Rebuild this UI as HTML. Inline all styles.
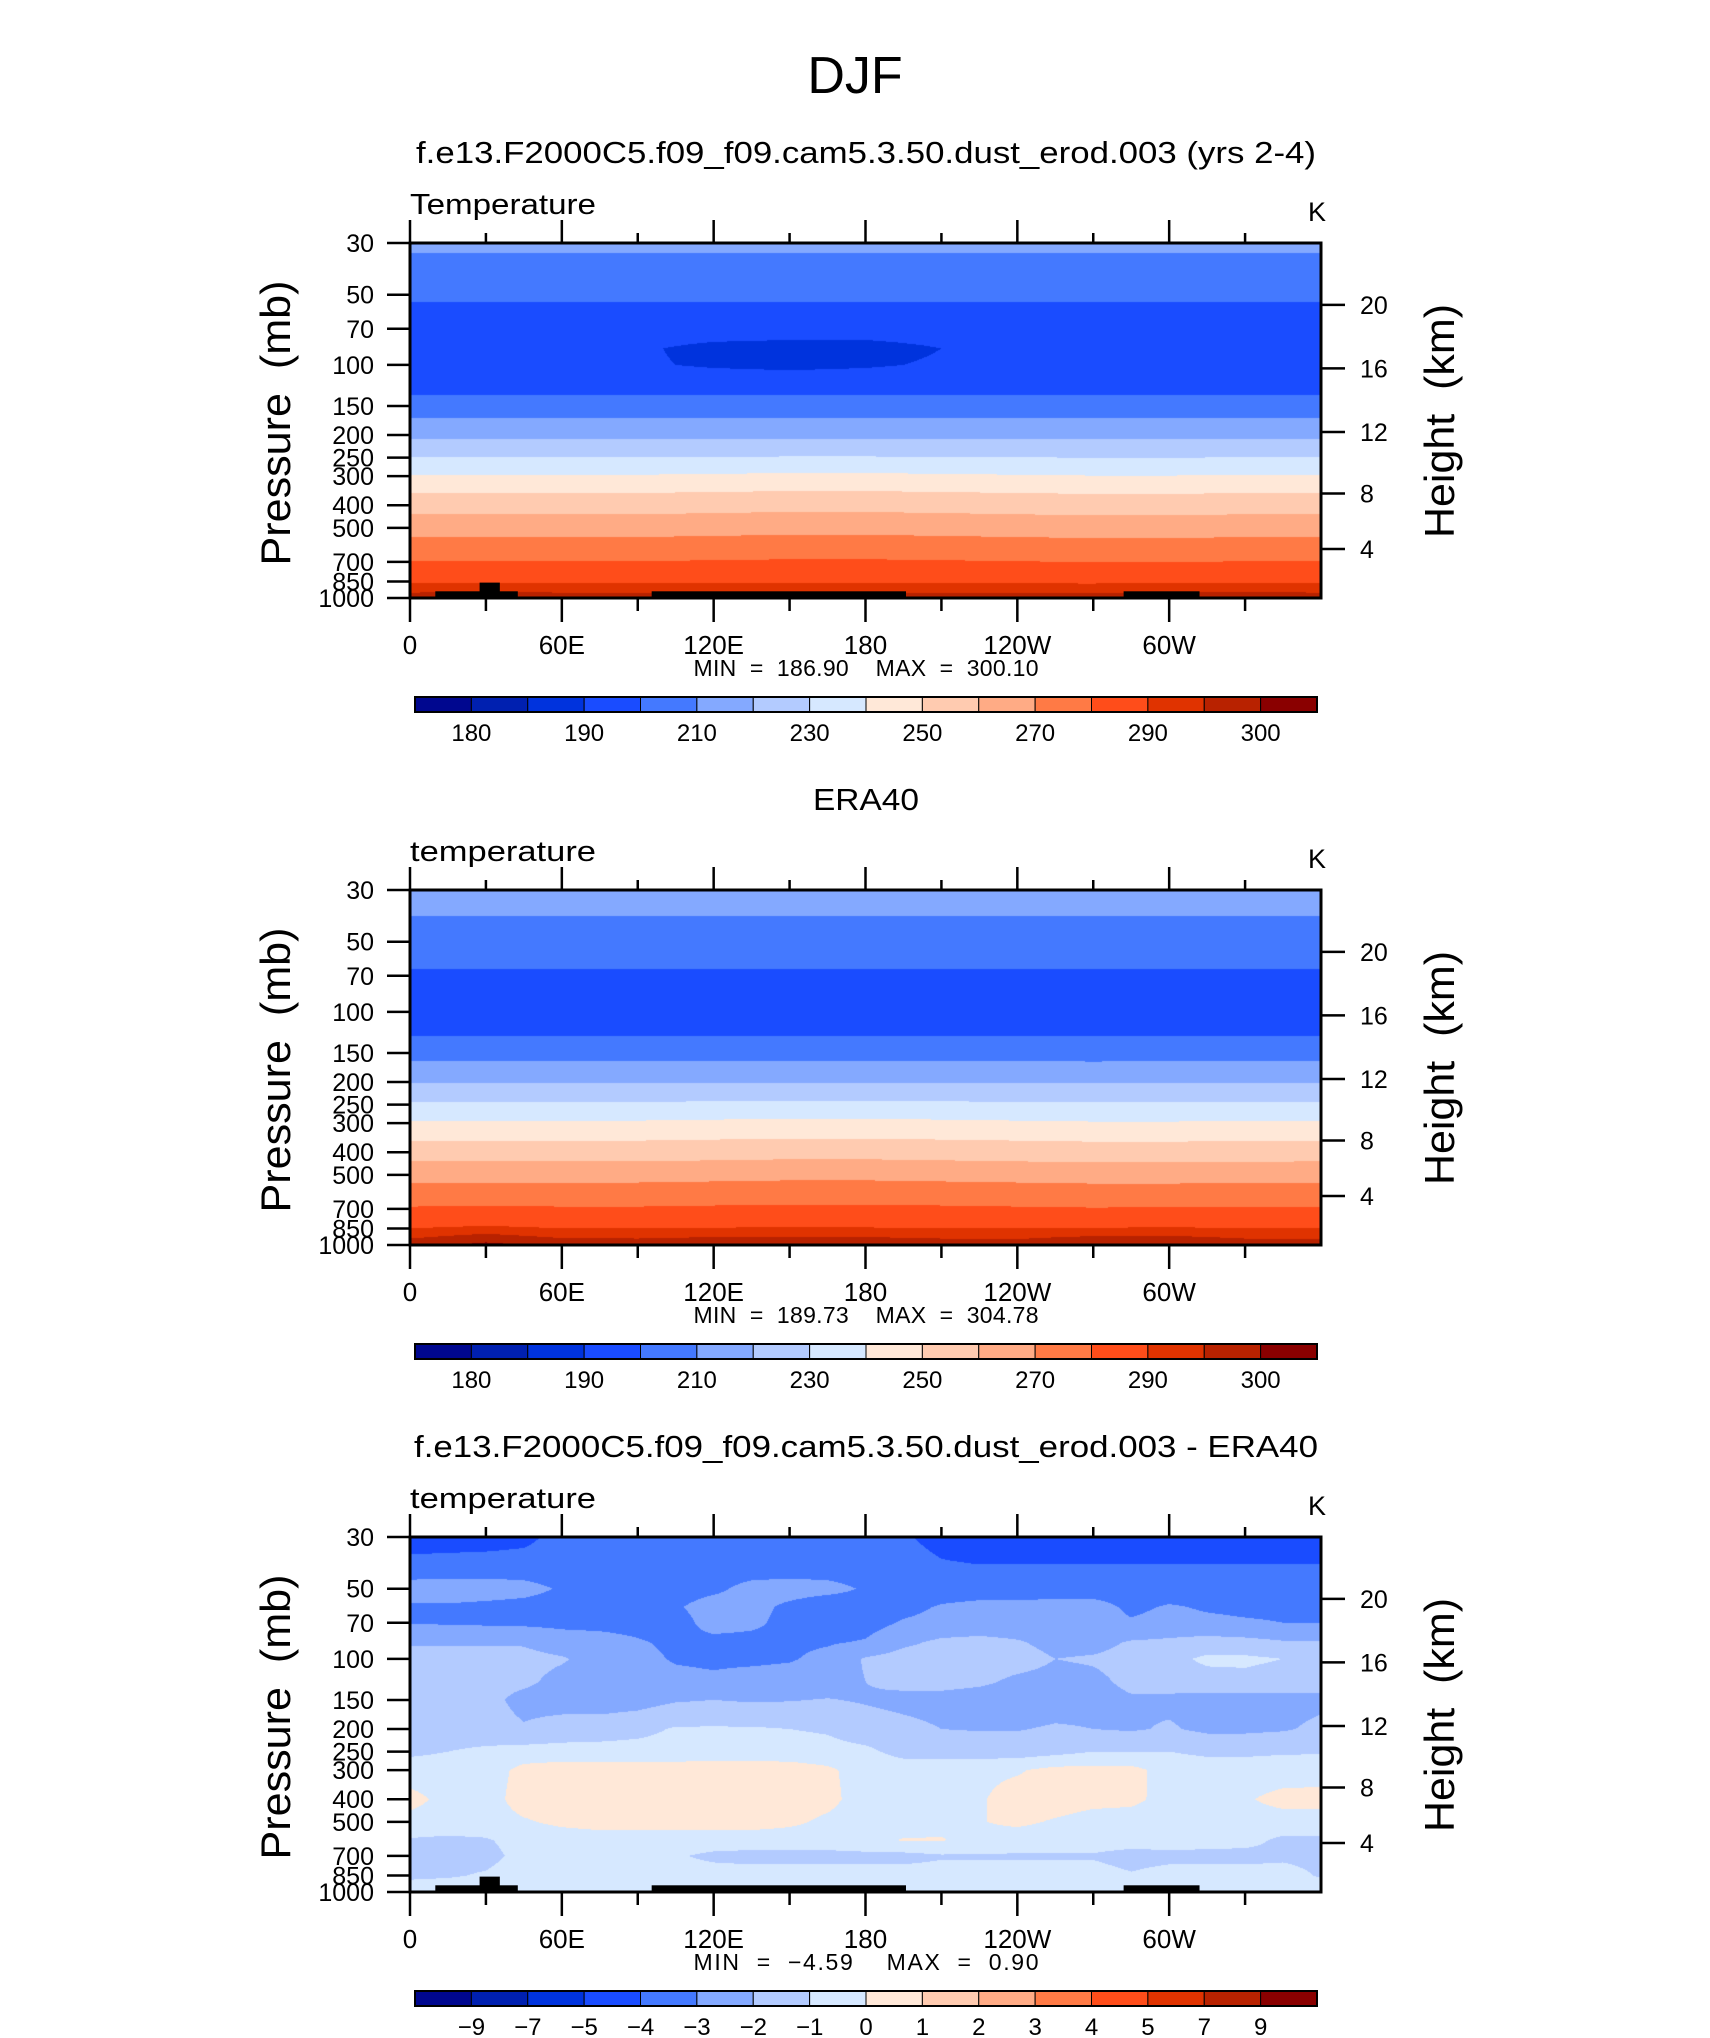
<!DOCTYPE html>
<html><head><meta charset="utf-8"><style>
html,body{margin:0;padding:0;background:#fff;}
#root{position:relative;width:1710px;height:2038px;overflow:hidden;background:#fff;}
canvas{position:absolute;}
svg{position:absolute;left:0;top:0;}
text{font-family:"Liberation Sans",sans-serif;fill:#000;white-space:pre;}
</style></head><body>
<div id="root">
<canvas id="c1" width="911" height="355" style="left:410px;top:243px"></canvas>
<canvas id="c2" width="911" height="355" style="left:410px;top:890px"></canvas>
<canvas id="c3" width="911" height="355" style="left:410px;top:1537px"></canvas>
<svg id="ov" width="1710" height="2038"></svg>
</div>
<script>
// ---------- data ----------
const levelsT=[180,185,190,200,210,220,230,240,250,260,270,280,290,295,300];
const levelsD=[-9,-7,-5,-4,-3,-2,-1,0,1,2,3,4,5,7,9];
const levelLabelsT=["180","","190","","210","","230","","250","","270","","290","","300"];
const levelLabelsD=["\u22129","\u22127","\u22125","\u22124","\u22123","\u22122","\u22121","0","1","2","3","4","5","7","9"];
const palette=["#00078f","#0020b0","#0033dd","#1a4cff","#4479ff","#84a9ff","#b3cbff","#d6e8ff","#ffe8d8","#ffcbb0","#ffab85","#ff7a45","#ff4d1a","#e03300","#b82200","#8a0000"];
const pressTicks=[30,50,70,100,150,200,250,300,400,500,700,850,1000];
const heightKm=[4,8,12,16,20];
const heightP=[616,356,194,103.5,55.3];
const lonTicks=[0,60,120,180,240,300];
const lonTickLabels=["0","60E","120E","180","120W","60W"];
const oroStart=[10,27.5,95.5,282];
const oroEnd=[42.6,35.5,196,312];
const oroTop=[936,859,936,936];

const lons13=[0,30,60,90,120,150,180,210,240,270,300,330,360];
const p1=[30,43,70,85,100,120,150,190,228,272,322,390,490,612,770,900,1000];
const g1=[
[212,212,212,212,212,212,212,212,212,212,212,212,212],
[205,205,205,205,205,205,205,205,205,205,205,205,205],
[194,194,194,194,194,194,194,194,194,194,194,194,194],
[194,194,194,191,188,187,187,190,194,194,194,194,194],
[193,193,193,191,189,188,189,191,193,193,193,193,193],
[195,195,195,195,195,195,195,195,195,195,195,195,195],
[205,205,205,205,205,205,205,205,205,205,205,205,205],
[215,215,215,215,215,215,215,215,215,215,215,215,215],
[225,225,225,225,225,225,225,225,225,225,225,225,225],
[235,235,235,235,235.5,236,236,235.5,235,234.5,234.5,235,235],
[245,245,245,245,245.5,246,246,245.5,245,244.5,244.5,245,245],
[255,255,255,255,255.5,256,256,255.5,255,254.5,254.5,255,255],
[265,265,265,265,265.5,266,266,265.5,265,264.5,264.5,265,265],
[275,275,275,275,275.5,276,276,275.5,275,274.5,274.5,275,275],
[284,284,284,284,284.3,284.5,284.5,284.3,284,283.7,283.7,284,284],
[292,292.5,292,292,292,292,292,292,292,292,292.5,292,292],
[298,299,298,298,298,298,298,298,298,297.5,297.5,299,298]];

const p2=[30,50,90,110,145,182,222,266,322,395,485,600,760,880,1000];
const g2=[
[215,215,215,215,215,215,215,215,215,215,215,215,215],
[205,205,205,205,205,205,205,205,205,205,205,205,205],
[194,194,194,194,194,194,194,194,194,194,194,194,194],
[195,195,195,195,195,195,195,195,195,195,195,195,195],
[205,205,205,205,205,205,205,205,205,204.5,205,205,205],
[215,215,215,215,215,215,215,215,215,215,215,215,215],
[225,225,225,225,225,225,225,225,225,225,225,225,225],
[235,235,235,235,235.5,236,236,235.5,235,234.5,234.5,234.8,235],
[245,245,245,245,245.5,246,246,245.5,245,244.5,244.5,244.8,245],
[255,255,255,255,255.5,256,256,255.5,255,254.5,254.5,254.8,255],
[265,265,265,265,265.5,266,266,265.5,265,264.5,264.5,264.8,265],
[275,275,275,275,275.5,276,276,275.5,275,274.5,274.5,274.8,275],
[284,284.5,284,284,284.3,284.5,284.5,284.3,284,283.7,284,284,284],
[292,294,292,292,292.5,292.5,292.5,292,292,292.5,293,292,292],
[298,301.5,298.5,298,299,299,299,298,297.5,300.5,300,298,298]];

const lons25=[0,15,30,45,60,75,90,105,120,135,150,165,180,195,210,225,240,255,270,285,300,315,330,345,360];
const p3=[30,40,50,60,70,85,100,125,150,200,250,300,400,500,600,700,850,1000];
const g3=[
[-4.6,-4.6,-4.5,-4.3,-3.6,-3.5,-3.5,-3.5,-3.5,-3.5,-3.5,-3.6,-3.7,-3.9,-4.3,-4.5,-4.5,-4.5,-4.5,-4.5,-4.5,-4.5,-4.5,-4.5,-4.5],
[-3.6,-3.5,-3.5,-3.5,-3.5,-3.5,-3.5,-3.5,-3.5,-3.5,-3.5,-3.5,-3.5,-3.6,-3.9,-3.97,-3.97,-3.97,-3.97,-3.97,-3.97,-3.97,-3.97,-3.97,-3.97],
[-2.6,-2.6,-2.6,-2.7,-3.1,-3.5,-3.5,-3.4,-3.2,-2.7,-2.6,-2.7,-3.1,-3.5,-3.5,-3.5,-3.5,-3.5,-3.5,-3.5,-3.5,-3.5,-3.5,-3.5,-3.0],
[-3.1,-3.1,-3.2,-3.3,-3.4,-3.5,-3.4,-3.1,-2.6,-2.7,-3.2,-3.6,-3.4,-3.3,-2.9,-2.7,-2.7,-2.6,-2.6,-3.2,-2.9,-3.1,-3.2,-3.2,-3.3],
[-3.05,-3.1,-3.15,-3.2,-3.25,-3.3,-3.35,-3.4,-2.6,-2.8,-3.3,-3.9,-3.4,-2.9,-2.7,-2.6,-2.6,-2.6,-2.6,-2.9,-2.7,-2.8,-2.9,-3.0,-3.0],
[-2.1,-2.1,-2.1,-2.1,-2.5,-2.6,-2.9,-3.2,-3.3,-3.3,-3.2,-3.1,-2.9,-2.2,-1.8,-1.7,-1.9,-2.3,-2.3,-1.9,-1.8,-1.6,-1.7,-1.9,-1.9],
[-1.6,-1.6,-1.6,-1.7,-1.9,-2.4,-2.7,-3.1,-3.2,-3.2,-3.1,-2.7,-1.9,-1.6,-1.5,-1.5,-1.6,-2.0,-1.9,-1.7,-1.3,-0.8,-0.8,-1.0,-1.6],
[-1.6,-1.6,-1.7,-1.8,-2.3,-2.5,-2.6,-2.7,-2.8,-2.6,-2.5,-2.5,-2.0,-1.7,-1.6,-1.8,-2.2,-2.3,-2.2,-1.8,-1.6,-1.4,-1.3,-1.5,-1.7],
[-1.6,-1.6,-1.7,-2.3,-2.4,-2.5,-2.4,-2.1,-2.0,-2.1,-2.05,-1.95,-2.1,-2.3,-2.4,-2.5,-2.5,-2.4,-2.3,-2.1,-2.2,-2.4,-2.4,-2.3,-2.2],
[-1.5,-1.5,-1.6,-1.9,-1.6,-1.5,-1.3,-0.9,-0.9,-0.9,-1.0,-1.1,-1.5,-1.7,-2.0,-2.05,-2.05,-1.9,-2.0,-2.1,-1.9,-2.2,-2.2,-2.1,-1.8],
[-1.2,-1.0,-0.8,-0.6,-0.6,-0.6,-0.6,-0.6,-0.5,-0.5,-0.6,-0.7,-0.8,-1.3,-1.5,-1.5,-1.5,-1.3,-1.0,-1.0,-1.0,-1.2,-1.2,-1.1,-1.1],
[-0.5,-0.5,-0.5,0.3,0.5,0.5,0.5,0.5,0.5,0.5,0.5,0.2,-0.5,-0.5,-0.3,-0.2,-0.1,0.3,0.3,0.3,-0.4,-0.5,-0.5,-0.5,-0.4],
[0.3,-0.3,-0.4,0.4,0.5,0.5,0.5,0.5,0.5,0.5,0.5,0.3,-0.5,-0.5,-0.3,-0.1,0.4,0.5,0.3,0.2,-0.3,-0.3,-0.1,0.3,0.3],
[-0.3,-0.4,-0.4,-0.1,0.2,0.4,0.4,0.4,0.4,0.4,0.2,-0.2,-0.5,-0.4,-0.2,-0.05,0.2,-0.1,-0.4,-0.4,-0.4,-0.4,-0.4,-0.4,-0.4],
[-1.1,-1.2,-1.1,-0.6,-0.5,-0.5,-0.5,-0.5,-0.5,-0.5,-0.5,-0.5,-0.2,0.05,0.05,-0.3,-0.5,-0.5,-0.5,-0.5,-0.5,-0.6,-0.7,-1.2,-1.2],
[-1.3,-1.3,-1.3,-0.7,-0.9,-0.8,-0.8,-0.9,-1.2,-1.3,-1.3,-1.3,-1.3,-1.3,-1.1,-1.1,-1.1,-1.1,-1.1,-1.4,-1.3,-1.3,-1.3,-1.2,-1.3],
[-1.2,-1.1,-0.9,-0.5,-0.6,-0.6,-0.6,-0.6,-0.6,-0.6,-0.6,-0.6,-0.6,-0.6,-0.6,-0.6,-0.6,-0.6,-0.6,-0.9,-0.6,-0.6,-0.6,-0.6,-1.1],
[-0.4,-0.4,-0.4,-0.4,-0.4,-0.4,-0.2,0.1,-0.4,-0.4,-0.4,-0.4,-0.4,-0.4,-0.4,-0.4,-0.4,-0.4,-0.4,-0.4,-0.4,-0.4,-0.4,-0.4,-0.4]];

// ---------- geometry ----------
const PL=410, PW=911, PH=355, TOPS=[243,890,1537];
const LNP0=Math.log(30), LNR=Math.log(1000/30);
function yOfP(p,top){return top+(Math.log(p)-LNP0)/LNR*PH;}
function xOfLon(l){return PL+l/360*PW;}
function hex(c){return [parseInt(c.substr(1,2),16),parseInt(c.substr(3,2),16),parseInt(c.substr(5,2),16)];}
const rgb=palette.map(hex);
function band(v,lv){let i=0;while(i<lv.length&&v>=lv[i])i++;return i;}

function render(id,lons,pres,grid,lv){
  const cv=document.getElementById(id),ctx=cv.getContext('2d');
  const im=ctx.createImageData(PW,PH),d=im.data;
  const lp=pres.map(Math.log);
  const dl=lons[1]-lons[0], nc=lons.length;
  for(let py=0;py<PH;py++){
    const L=LNP0+(py+0.5)/PH*LNR;
    let j=0;while(j<lp.length-2&&L>lp[j+1])j++;
    let t=(L-lp[j])/(lp[j+1]-lp[j]);t=Math.max(0,Math.min(1,t));
    const r0=grid[j],r1=grid[j+1];
    for(let px=0;px<PW;px++){
      const lon=(px+0.5)/PW*360;
      let i=Math.min(nc-2,Math.floor(lon/dl));const s=(lon-lons[i])/dl;
      const v=(r0[i]*(1-s)+r0[i+1]*s)*(1-t)+(r1[i]*(1-s)+r1[i+1]*s)*t;
      const c=rgb[band(v,lv)],k=(py*PW+px)*4;
      d[k]=c[0];d[k+1]=c[1];d[k+2]=c[2];d[k+3]=255;
    }
  }
  ctx.putImageData(im,0,0);
}
render('c1',lons13,p1,g1,levelsT);
render('c2',lons13,p2,g2,levelsT);
render('c3',lons25,p3,g3,levelsD);

// ---------- svg ----------
const NS='http://www.w3.org/2000/svg',svg=document.getElementById('ov');
function el(tag,attrs,txt){const e=document.createElementNS(NS,tag);for(const k in attrs)e.setAttribute(k,attrs[k]);if(txt!==undefined)e.textContent=txt;svg.appendChild(e);return e;}
function line(x1,y1,x2,y2,w){return el('line',{x1:x1,y1:y1,x2:x2,y2:y2,stroke:'#000','stroke-width':w});}

let t=el('text',{x:855,y:93,'font-size':52,'text-anchor':'middle',fill:'#222'},'DJF');



const titles=["f.e13.F2000C5.f09_f09.cam5.3.50.dust_erod.003 (yrs 2-4)","ERA40","f.e13.F2000C5.f09_f09.cam5.3.50.dust_erod.003 - ERA40"];
const titleLen=[900,106,904];
const leftLab=["Temperature","temperature","temperature"];
const minmax=[["186.90","300.10"],["189.73","304.78"],["\u22124.59","0.90"]];
const cbLabels=[levelLabelsT,levelLabelsT,levelLabelsD];
const panelNames=['model','era40','difference'];

for(let k=0;k<3;k++){
  const top=TOPS[k],off=top-243,bot=top+PH,nm=panelNames[k];
  t=el('text',{x:866,y:163+off,'font-size':31,'text-anchor':'middle',textLength:titleLen[k],lengthAdjust:'spacingAndGlyphs'},titles[k]);
  
  
  t=el('text',{x:410,y:214+off,'font-size':29,textLength:186,lengthAdjust:'spacingAndGlyphs'},leftLab[k]);
  
  
  t=el('text',{x:1308,y:221+off,'font-size':27},'K');
  
  
  if(k!==1){
    for(let i=0;i<oroStart.length;i++){
      const x1=xOfLon(oroStart[i]),x2=xOfLon(oroEnd[i]),y1=yOfP(oroTop[i],top);
      const r=el('rect',{x:x1,y:y1,width:x2-x1,height:bot-y1,fill:'#000'});
      
      
    }
  }
  const fr=el('rect',{x:PL,y:top,width:PW,height:PH,fill:'none',stroke:'#000','stroke-width':3});
  
  
  pressTicks.forEach(p=>{
    const y=yOfP(p,top);
    line(387,y,PL,y,2.5);
    const tx=el('text',{x:374,y:y+9,'font-size':25,'text-anchor':'end'},String(p));
    
    
  });
  heightKm.forEach((h,i)=>{
    const y=yOfP(heightP[i],top);
    line(PL+PW,y,PL+PW+24,y,2.5);
    const tx=el('text',{x:1360,y:y+9,'font-size':25},String(h));
    
    
  });
  for(let l=0;l<=330;l+=30){
    const x=xOfLon(l),maj=(l%60===0);
    line(x,top,x,top-(maj?23:10),2.5);
    line(x,bot,x,bot+(maj?24:13),2.5);
  }
  lonTicks.forEach((l,i)=>{
    const tx=el('text',{x:xOfLon(l),y:654+off,'font-size':26,'text-anchor':'middle'},lonTickLabels[i]);
    
    
  });
  t=el('text',{x:866,y:676+off,'font-size':23,'text-anchor':'middle',textLength:345,lengthAdjust:'spacing'},'MIN  =  '+minmax[k][0]+'    MAX  =  '+minmax[k][1]);
  
  
  t=el('text',{x:0,y:0,'font-size':42,'text-anchor':'middle',fill:'#222',textLength:285,lengthAdjust:'spacingAndGlyphs',transform:'translate(290,'+(423+off)+') rotate(-90)'},'Pressure  (mb)');
  
  
  t=el('text',{x:0,y:0,'font-size':42,'text-anchor':'middle',fill:'#222',textLength:234,lengthAdjust:'spacingAndGlyphs',transform:'translate(1454,'+(421+off)+') rotate(-90)'},'Height  (km)');
  
  
  const cx0=415,cw=(1317-415)/palette.length,cy=697+off,ch=15;
  palette.forEach((c,i)=>{
    const r=el('rect',{x:cx0+i*cw,y:cy,width:cw,height:ch,fill:c,stroke:'#000','stroke-width':1});
    
    
  });
  el('rect',{x:cx0,y:cy,width:cw*palette.length,height:ch,fill:'none',stroke:'#000','stroke-width':2});
  cbLabels[k].forEach((s,i)=>{
    if(!s)return;
    const tx=el('text',{x:cx0+(i+1)*cw,y:741+off,'font-size':24,'text-anchor':'middle'},s);
    
    
  });
}
</script>
</body></html>
